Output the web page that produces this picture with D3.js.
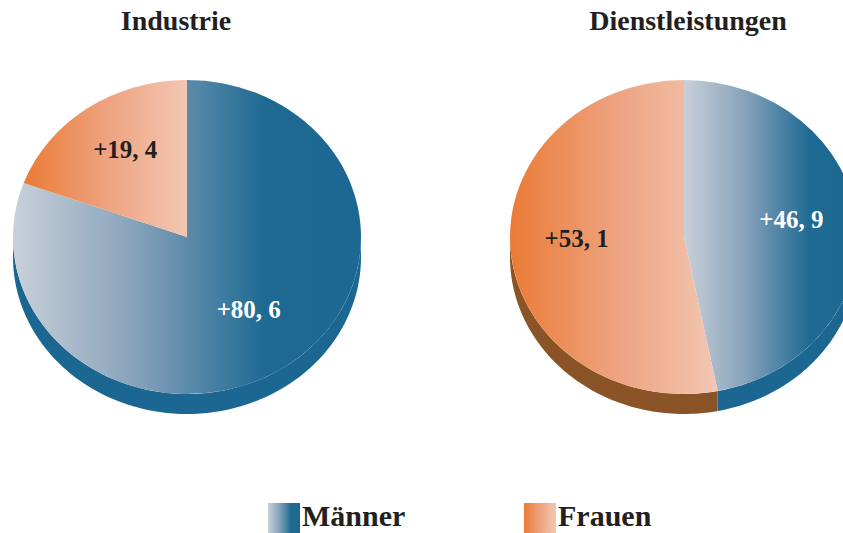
<!DOCTYPE html>
<html>
<head>
<meta charset="utf-8">
<script src="https://cdn.jsdelivr.net/npm/d3@7"></script>
<style>
  html, body { margin: 0; padding: 0; background: #ffffff; }
  svg { display: block; }
  text { font-family: "Liberation Serif", "Times New Roman", serif; font-weight: bold; }
</style>
</head>
<body>
<svg id="chart" width="843" height="533"></svg>
<script>
// Share of employment growth by sex, per sector (percent)
const sectors = ["Industrie", "Dienstleistungen"];
const groups = ["Männer", "Frauen"];
const maennerValues = [80.6, 46.9];
const frauenValues = [19.4, 53.1];
const valueLabels = [["+80, 6", "+19, 4"], ["+46, 9", "+53, 1"]];

const W = 843, H = 533;
const svg = d3.select("#chart");

// Layout of the two tilted pies
const rx = 174, ry = 157, depth = 20;
const centerX = d3.scalePoint().domain(sectors).range([187, 684]);
const centerY = 237;
const titleX = d3.scalePoint().domain(sectors).range([176, 688]);

const topFill = { "Männer": "url(#gradM)", "Frauen": "url(#gradF)" };
const sideFill = { "Männer": "#1b6791", "Frauen": "#8a5426" };
const labelFill = { "Männer": "#ffffff", "Frauen": "#231f20" };

// Horizontal gradients used for the slice tops and legend swatches
const defs = svg.append("defs");
function linGrad(id, stops) {
  const g = defs.append("linearGradient").attr("id", id)
    .attr("x1", 0).attr("y1", 0).attr("x2", 1).attr("y2", 0);
  stops.forEach(([o, c]) => g.append("stop").attr("offset", o).attr("stop-color", c));
}
linGrad("gradM", [[0, "#c9d0da"], [0.35, "#87a2ba"], [0.72, "#1f6a93"], [1, "#1c6892"]]);
linGrad("gradF", [[0, "#ea7b35"], [0.5, "#eea27f"], [1, "#f2c7b3"]]);

const pie = d3.pie().sort(null).startAngle(0).endAngle(2 * Math.PI);
const arc = d3.arc().innerRadius(0).outerRadius(rx);

// Point on an ellipse for a d3 pie angle (clockwise from 12 o'clock)
const ex = a => rx * Math.sin(a);
const ey = a => -ry * Math.cos(a);

sectors.forEach((sector, i) => {
  const data = groups.map((g, k) => ({ group: g, value: k === 0 ? maennerValues[i] : frauenValues[i], label: valueLabels[i][k] }));
  const arcs = pie.value(d => d.value)(data);
  const g = svg.append("g").attr("transform", `translate(${centerX(sector)},${centerY})`);

  // Visible rim: the lower half of the ellipse pushed down by depth
  arcs.forEach(a => {
    const lo = Math.max(a.startAngle, Math.PI / 2);
    const hi = Math.min(a.endAngle, 3 * Math.PI / 2);
    if (hi <= lo) return;
    const n = 80;
    const angles = d3.range(n + 1).map(j => lo + (hi - lo) * j / n);
    const p = d3.path();
    angles.forEach((t, j) => j === 0 ? p.moveTo(ex(t), ey(t)) : p.lineTo(ex(t), ey(t)));
    angles.slice().reverse().forEach(t => p.lineTo(ex(t), ey(t) + depth));
    p.closePath();
    g.append("path").attr("d", p.toString()).attr("fill", sideFill[a.data.group]);
  });

  // Slice tops, squashed vertically into an ellipse
  const top = g.append("g").attr("transform", `scale(1,${ry / rx})`);
  top.selectAll("path").data(arcs).join("path")
    .attr("d", arc)
    .attr("fill", d => topFill[d.data.group]);

  // Value labels, placed near each slice's centroid
  const lab = d3.arc().innerRadius(0).outerRadius(rx * 1.24);
  g.selectAll("text.val").data(arcs).join("text")
    .attr("class", "val")
    .attr("x", d => lab.centroid(d)[0])
    .attr("y", d => lab.centroid(d)[1] * ry / rx - 8)
    .attr("dy", "0.35em")
    .attr("text-anchor", "middle")
    .attr("font-size", 25)
    .attr("fill", d => labelFill[d.data.group])
    .text(d => d.data.label);

  svg.append("text")
    .attr("x", titleX(sector)).attr("y", 30)
    .attr("text-anchor", "middle")
    .attr("font-size", 28)
    .attr("fill", "#231f20")
    .text(sector);
});

// Legend
const legendX = d3.scalePoint().domain(groups).range([268, 524]);
const legend = svg.selectAll("g.leg").data(groups).join("g")
  .attr("class", "leg")
  .attr("transform", g => `translate(${legendX(g)},503)`);
legend.append("rect").attr("width", 32).attr("height", 30)
  .attr("fill", g => topFill[g]);
legend.append("text").attr("x", 34).attr("y", 23)
  .attr("font-size", 30).attr("fill", "#231f20")
  .text(g => g);
</script>
</body>
</html>
